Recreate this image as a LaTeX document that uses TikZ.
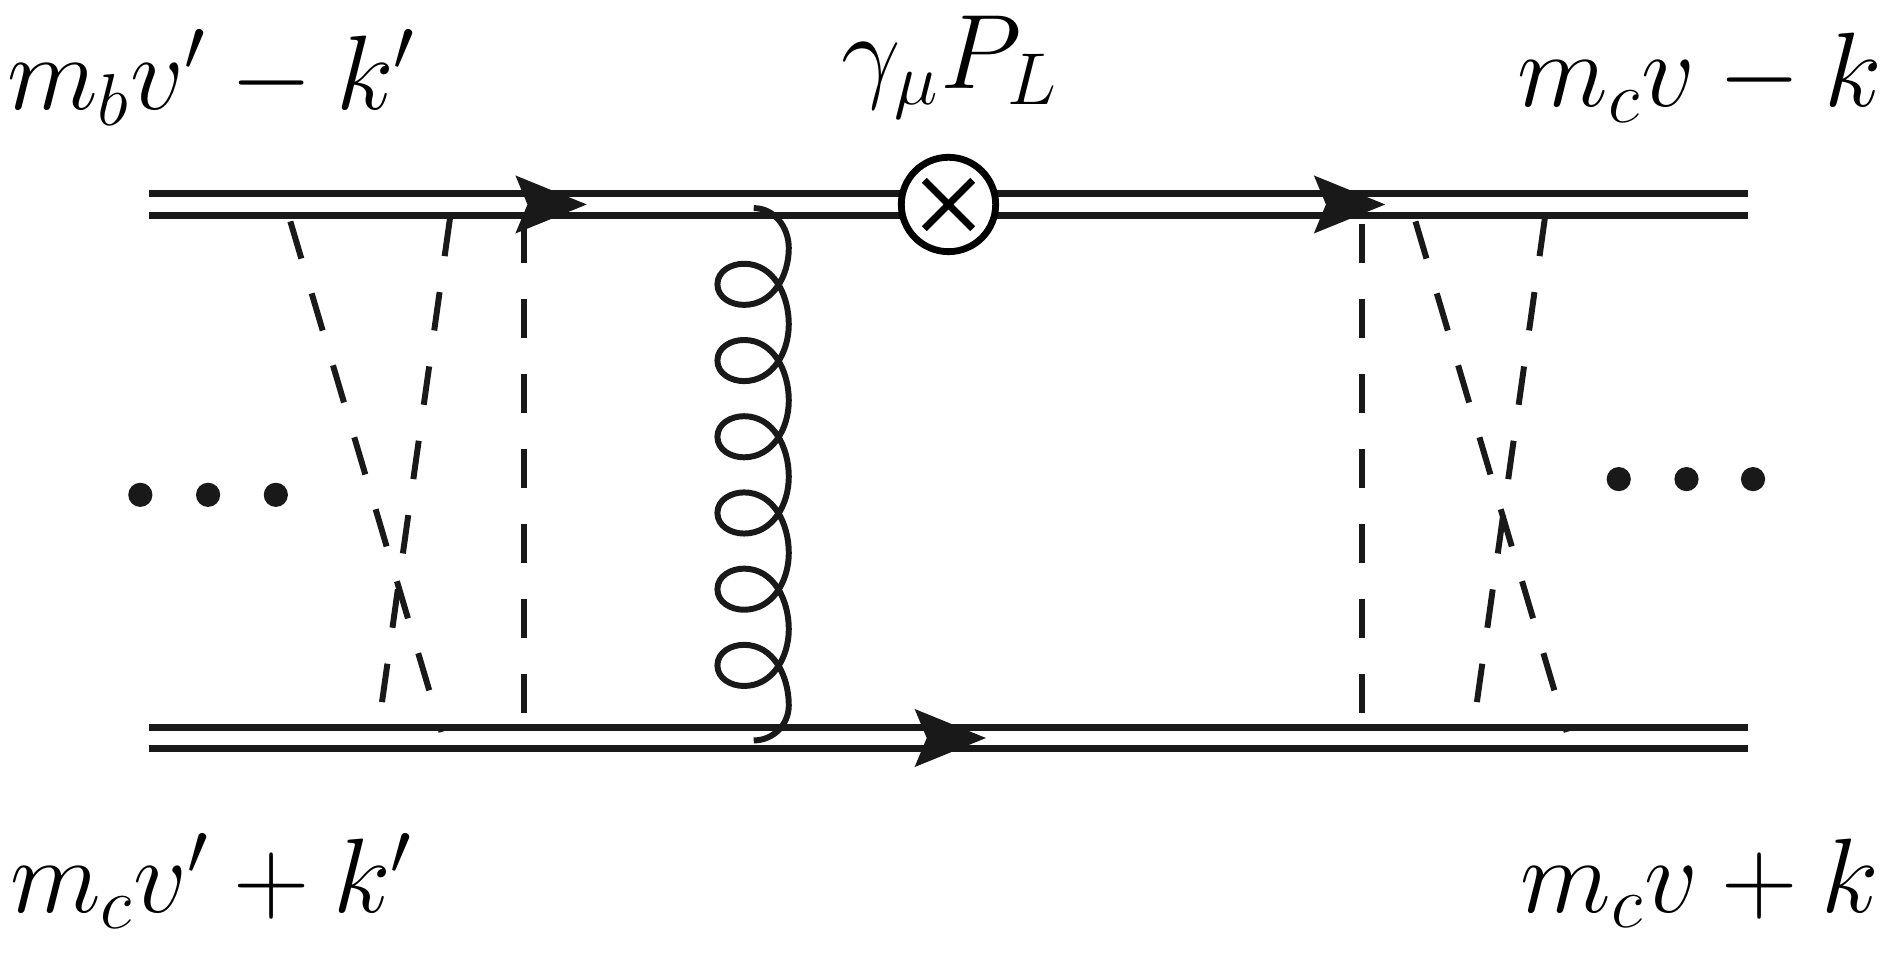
\documentclass[tikz,border=0pt]{standalone}
\tikzset{
  heavy/.style={line width=1.6pt, black!90},
  scalar/.style={line width=1.4pt, black!90, dash pattern=on 0.32cm off 0.3cm},
  gluon/.style={line width=1.4pt, black!90},
  lbl/.style={font=\fontsize{26}{32}\selectfont}
}
\begin{document}
\begin{tikzpicture}[x=0.01cm, y=-0.01cm]
\useasboundingbox (0,0) rectangle (1568,790);
% Heavy quark lines
    \draw[heavy] (123,160) -- (1445,160);
    \draw[heavy] (123,178) -- (1445,178);
    \draw[heavy] (123,601) -- (1445,601);
    \draw[heavy] (123,619) -- (1445,619);
% Arrows
    \fill[black!90] (485,169) -- (426,145) -- (436,169) -- (426,193) -- cycle;
    \fill[black!90] (1145,169) -- (1086,145) -- (1096,169) -- (1086,193) -- cycle;
    \fill[black!90] (815,610) -- (756,586) -- (766,610) -- (756,634) -- cycle;
% Current insertion
    \draw[line width=1.6pt, fill=white] (784,169) circle (39);
    \draw[line width=1.6pt] (784,169) ++(-20,-20) -- ++(40,40) (784,169) ++(20,-20) -- ++(-40,40);
% Gluon
    \draw[gluon] (623,172) to[out=0,in=90] (652,205)
      \foreach \c in {235,298,361,424,487,550} {
        to[out=-90,in=0] (615,\c+17) to[out=180,in=-90] (593,\c)
        to[out=90,in=180] (615,\c-17) to[out=0,in=90] (652,\c+33)
      } to[out=-90,in=0] (623,612);
% Soft exchanges
    \draw[scalar] (240,183) -- (365,605);
    \draw[scalar] (372,180) -- (313,600);
    \draw[scalar] (433,185) -- (433,600);
    \draw[scalar] (1126,185) -- (1126,605);
    \draw[scalar] (1170,183) -- (1295,605);
    \draw[scalar] (1277,180) -- (1218,600);
% Dots
    \foreach \x in {116,172,228} \fill[black!90] (\x,409) circle (10);
    \foreach \x in {1338,1394,1449} \fill[black!90] (\x,396) circle (10);
% Labels
    \node[lbl] (pin) at (175,64) {$m_b v' - k'$};
    \node[lbl] (op) at (785,56) {$\gamma_\mu P_L$};
    \node[lbl] (pout) at (1405,64) {$m_c v - k$};
    \node[lbl] (qin) at (175,728) {$m_c v' + k'$};
    \node[lbl] (qout) at (1405,730) {$m_c v + k$};
\end{tikzpicture}
\end{document}
